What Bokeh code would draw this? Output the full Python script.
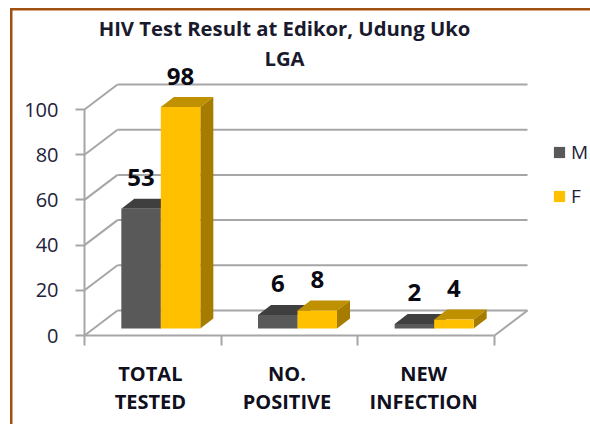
from bokeh.plotting import figure
from bokeh.embed import file_html
from bokeh.resources import INLINE
from bokeh.models import Range1d, LinearAxis, FixedTicker, Legend, LegendItem
from bokeh.core.properties import value

title_lines = ["HIV Test Result at Edikor, Udung Uko", "LGA"]
categories = [["TOTAL", "TESTED"], ["NO.", "POSITIVE"], ["NEW", "INFECTION"]]
series_names = ["M", "F"]
m_values = [53, 6, 2]
f_values = [98, 8, 4]
y_ticks = [0, 20, 40, 60, 80, 100]
front_colors = ["#595959", "#FFC000"]
top_colors = ["#3F3F3F", "#BF9000"]
side_colors = ["#3F3F3F", "#A67C00"]
brown = "#A0500F"
grid = "#A6A6A6"

# scale: page pixels
PX_X = 136.67
PX_Y = 2.26
X0, Y0 = 84, 335           # page position of the origin
W, H = 590, 424


def dx(px): return px / PX_X
def dy(px): return px / PX_Y
def X(page): return (page - X0) / PX_X
def Y(page): return (Y0 - page) / PX_Y


p = figure(width=W, height=H, output_backend="svg", toolbar_location=None,
           x_range=Range1d(X(0), X(W)), y_range=Range1d(Y(H), Y(0)),
           min_border=0, x_axis_type=None, y_axis_type=None, outline_line_color=None)
p.grid.visible = False

font = "Open Sans"
# axes
ya = LinearAxis(ticker=FixedTicker(ticks=y_ticks), bounds=(0, 100), fixed_location=0,
                axis_line_color=grid, axis_line_width=2,
                major_tick_line_color=grid, major_tick_line_width=2, major_tick_out=9, major_tick_in=0,
                minor_tick_out=0, minor_tick_in=0, major_label_standoff=17,
                major_label_text_font=font, major_label_text_font_size="20px", major_label_text_color="#22223A")
p.add_layout(ya, "left")
n = len(categories)
xa = LinearAxis(ticker=FixedTicker(ticks=list(range(n + 1))), bounds=(0, n), fixed_location=0,
                axis_line_color=grid, axis_line_width=2,
                major_tick_line_color=grid, major_tick_line_width=2, major_tick_out=10, major_tick_in=0,
                minor_tick_out=0, minor_tick_in=0, major_label_text_color=None, major_label_text_font_size="1px")
p.add_layout(xa, "below")

# back wall and floor
BX, BY = dx(33), dy(25)
p.segment(x0=[0] * len(y_ticks), y0=y_ticks, x1=[BX] * len(y_ticks), y1=[t + BY for t in y_ticks],
          line_color=grid, line_width=2)
p.segment(x0=[BX] * len(y_ticks), y0=[t + BY for t in y_ticks], x1=[n + BX] * len(y_ticks),
          y1=[t + BY for t in y_ticks], line_color=grid, line_width=2)
p.segment(x0=[n], y0=[0], x1=[n + BX], y1=[BY], line_color=grid, line_width=2)

# 3-D bars
FLOOR = dy(7)
SHIFT = dx(8)
BW = dx(39.5)
DX, DY = dx(13), dy(10)
centers = [i + 0.5 + SHIFT for i in range(n)]
renderers = []
for s, vals in enumerate([m_values, f_values]):
    lefts = [c + (s - 1) * BW for c in centers]
    rights = [l + BW for l in lefts]
    tops = [v + FLOOR for v in vals]
    p.patches(xs=[[l, l + DX, r + DX, r] for l, r in zip(lefts, rights)],
              ys=[[t, t + DY, t + DY, t] for t in tops], fill_color=top_colors[s], line_color=None)
    p.patches(xs=[[r, r + DX, r + DX, r] for r in rights],
              ys=[[FLOOR, FLOOR + DY, t + DY, t] for t in tops], fill_color=side_colors[s], line_color=None)
    r = p.vbar(x=[(l + h) / 2 for l, h in zip(lefts, rights)], width=BW, bottom=FLOOR, top=tops,
               fill_color=front_colors[s], line_color=None)
    renderers.append(r)
    p.text(x=[(l + h) / 2 for l, h in zip(lefts, rights)], y=[t + dy(31) for t in tops], text=[str(v) for v in vals],
           text_align="center", text_baseline="middle", text_font=value(font), text_font_style="bold",
           text_font_size="24px", text_color="#0A0A14")

# category labels
for j in range(2):
    p.text(x=[i + 0.5 - dx(2.5) for i in range(n)], y=[Y(373 + 28 * j)] * n, text=[c[j] for c in categories],
           text_align="center", text_baseline="middle", text_font=value(font), text_font_style="bold",
           text_font_size="20px", text_color="#101020")

# title
for j, line in enumerate(title_lines):
    p.text(x=[X(284)], y=[Y(27 + 30 * j)], text=[line], text_align="center", text_baseline="middle",
           text_font=value(font), text_font_style="bold", text_font_size="20.3px", text_color="#1A1A2E")

# legend
leg = Legend(items=[LegendItem(label=nm, renderers=[r]) for nm, r in zip(series_names, renderers)],
             location=(552, H - 209), glyph_width=14, glyph_height=14, label_height=14, label_width=16,
             spacing=18, label_standoff=5, margin=0, padding=0, border_line_color=None, background_fill_color=None,
             label_text_font=font, label_text_font_size="19px", label_text_color="#22223A")
p.add_layout(leg)

# brown frame
p.quad(left=[X(9.5), X(9.5)], right=[X(12), X(W)], bottom=[Y(H), Y(10)], top=[Y(7.5), Y(7.5)],
       fill_color=brown, line_color=None)

open("out.html", "w").write(file_html(p, INLINE))
